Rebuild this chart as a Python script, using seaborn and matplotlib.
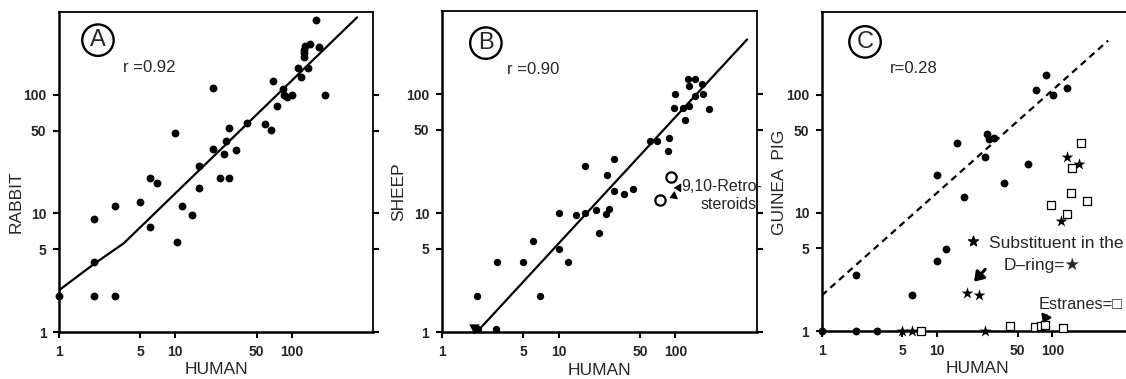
import numpy as np
import pandas as pd
import matplotlib
matplotlib.use('Agg')
import matplotlib.pyplot as plt
import seaborn as sns

sns.set_theme(style='white')
plt.rcParams['font.family'] = ['Liberation Sans', 'DejaVu Sans']

# ---- data (log-log, human on x) ----
# A: rabbit
a_human = [1, 2, 2, 2, 3, 3, 5, 6, 7, 6,
           10, 10.3, 11.5, 14, 16, 16, 21, 21, 24, 26,
           27, 29, 29, 33, 41, 59, 67, 69, 75, 84,
           85, 91, 101, 114, 121, 127, 127, 129, 143, 138,
           127, 172, 163, 192]
a_rabbit = [2, 9, 3.9, 2, 11.5, 2, 12.5, 20, 18, 7.7,
            48, 5.7, 11.6, 9.7, 25, 16.5, 115, 35, 20, 32,
            41, 53, 20, 34, 58, 57, 51, 130, 81, 113,
            99, 96, 100, 169, 142, 209, 241, 259, 271, 170,
            225, 254, 432, 100]
a_line_x = [1, 2, 3.6, 364]
a_line_y = [2.25, 3.75, 5.6, 450]

# B: sheep
b_human = [2.05, 2.9, 2, 3, 5, 6, 7, 10, 10, 12,
           14, 17, 17, 21, 22, 26, 25.5, 27, 30, 30,
           36, 43, 61, 69, 86, 88, 97, 99, 116, 122,
           130, 130, 128, 146, 146, 169, 171, 193]
b_sheep = [1.07, 1.05, 2, 3.9, 3.9, 5.8, 2, 10, 5, 3.9,
           9.6, 25, 10, 10.7, 6.8, 21, 9.8, 10.8, 28.5, 15.4,
           14.6, 16, 40, 40, 33, 43, 76, 100, 76, 61,
           80, 116, 135, 135, 96, 122, 100, 75]
b_tri_human = [1.9]
b_tri_sheep = [1.07]
b_retro_human = [92, 74]
b_retro_sheep = [20, 13]
b_line_x = [2.13, 411]
b_line_y = [1.07, 288]

# C: guinea pig
c_human = [1, 2, 2, 3, 6, 10, 10, 12, 15, 17,
           26, 27, 28, 31, 38, 61, 72, 88, 102, 135]
c_pig = [1, 3, 1, 1, 2, 21, 3.9, 4.9, 39, 13.7,
         29.5, 46, 42, 43, 18, 26, 110, 146, 100, 113]
c_star_human = [5, 6, 26, 18, 23, 133, 171, 118]
c_star_pig = [1, 1, 1, 2.1, 2.0, 29.5, 26, 8.6]
c_sq_human = [7.3, 43, 70, 79, 86, 124, 176, 149, 144, 97, 135, 201]
c_sq_pig = [1, 1.1, 1.08, 1.1, 1.12, 1.07, 39, 24, 14.6, 11.7, 9.8, 12.7]
c_line_x = [1, 304]
c_line_y = [2.0, 286]

ticks = [1, 5, 10, 50, 100]
tick_labels = ['1', '5', '10', '50', '100']

fig = plt.figure(figsize=(11.26, 3.79), dpi=100)
axA = fig.add_axes([0.0524, 0.124, 0.2789, 0.8443])
axB = fig.add_axes([0.3923, 0.124, 0.2800, 0.8470])
axC = fig.add_axes([0.7298, 0.1266, 0.2765, 0.8420])


def style_axes(ax, letter, r_text, ylabel, ylab_y, right_ticks=True):
    ax.set_xscale('log')
    ax.set_yscale('log')
    ax.set_xlim(1, 500)
    ax.set_ylim(1, 500)
    ax.set_xticks(ticks)
    ax.set_xticklabels(tick_labels)
    ax.set_yticks(ticks)
    ax.set_yticklabels(tick_labels)
    ax.minorticks_off()
    ax.tick_params(direction='out', length=4, width=1.5, color='black',
                   labelsize=10, pad=5, left=True, bottom=True,
                   right=right_ticks, labelright=False)
    for lab in ax.get_xticklabels() + ax.get_yticklabels():
        lab.set_fontweight('bold')
    for side in ['left', 'bottom']:
        ax.spines[side].set_linewidth(1.8)
        ax.spines[side].set_color('black')
    for side in ['top', 'right']:
        ax.spines[side].set_linewidth(1.3)
        ax.spines[side].set_color('black')
    ax.set_xlabel('HUMAN', fontsize=12.5)
    ax.set_ylabel(ylabel, fontsize=12.5)
    ax.xaxis.set_label_coords(0.5, -0.095)
    ax.yaxis.set_label_coords(-0.112, ylab_y)
    ax.text(letter[1], letter[2], letter[0], transform=ax.transAxes,
            fontsize=17, ha='center', va='center',
            bbox=dict(boxstyle='circle,pad=0.2', fc='white', ec='black', lw=1.7))
    ax.text(r_text[1], r_text[2], r_text[0], transform=ax.transAxes,
            fontsize=12, ha='left', va='center')


def arrow(ax, head, tail, hl, hw, lw):
    ax.annotate('', xy=head, xytext=tail,
                arrowprops=dict(arrowstyle='-|>,head_length=%s,head_width=%s' % (hl, hw),
                                color='black', lw=lw, shrinkA=0, shrinkB=0))


# A
sns.scatterplot(x=a_human, y=a_rabbit, ax=axA, color='black', s=32,
                edgecolor='black', linewidth=0, clip_on=False, zorder=3)
sns.lineplot(x=a_line_x, y=a_line_y, ax=axA, color='black', lw=1.6,
             estimator=None, sort=False)
style_axes(axA, ('A', 0.124, 0.912), ('r =0.92', 0.204, 0.826), 'RABBIT', 0.406)

# B
sns.scatterplot(x=b_human, y=b_sheep, ax=axB, color='black', s=28,
                edgecolor='black', linewidth=0, clip_on=False, zorder=3)
sns.scatterplot(x=b_tri_human, y=b_tri_sheep, ax=axB, color='black', s=55,
                marker='v', edgecolor='black', linewidth=0, clip_on=False, zorder=3)
sns.scatterplot(x=b_retro_human, y=b_retro_sheep, ax=axB, s=55,
                facecolor='white', edgecolor='black', linewidth=1.6,
                clip_on=False, zorder=3)
sns.lineplot(x=b_line_x, y=b_line_y, ax=axB, color='black', lw=1.6,
             estimator=None, sort=False)
style_axes(axB, ('B', 0.14, 0.90), ('r =0.90', 0.206, 0.817), 'SHEEP', 0.438)
axB.text(113, 16.6, '9,10-Retro-', fontsize=11.5, ha='left', va='center')
axB.text(500, 11.9, 'steroids', fontsize=11.5, ha='right', va='center')
arrow(axB, (97, 16.3), (108, 16.3), 0.35, 0.22, 0.8)
arrow(axB, (89, 13.4), (99, 14.0), 0.35, 0.22, 0.8)

# C
sns.scatterplot(x=c_human, y=c_pig, ax=axC, color='black', s=32,
                edgecolor='black', linewidth=0, clip_on=False, zorder=3)
sns.scatterplot(x=c_star_human, y=c_star_pig, ax=axC, color='black', s=80,
                marker='*', edgecolor='black', linewidth=0, clip_on=False, zorder=3)
sns.scatterplot(x=c_sq_human, y=c_sq_pig, ax=axC, marker='s', s=28,
                facecolor='white', edgecolor='black', linewidth=0.9,
                clip_on=False, zorder=3)
sns.lineplot(x=c_line_x, y=c_line_y, ax=axC, color='black', lw=1.6,
             linestyle=(0, (3, 2.2)), estimator=None, sort=False)
style_axes(axC, ('C', 0.139, 0.906), ('r=0.28', 0.22, 0.824), 'GUINEA  PIG', 0.467,
           right_ticks=False)
axC.scatter([20.6], [5.75], marker='*', s=55, color='black', clip_on=False)
axC.text(27.9, 5.5, 'Substituent in the', fontsize=12.5, ha='left', va='center')
axC.text(37.6, 3.6, 'D\u2013ring=\u2605', fontsize=12.5, ha='left', va='center')
arrow(axC, (20.9, 2.61), (26.1, 3.32), 0.45, 0.3, 2.2)
axC.text(76, 1.69, 'Estranes=\u25a1', fontsize=11.8, ha='left', va='center')
arrow(axC, (82.6, 1.17), (89, 1.36), 0.35, 0.25, 1.8)

fig.savefig('out.png', dpi=100)
